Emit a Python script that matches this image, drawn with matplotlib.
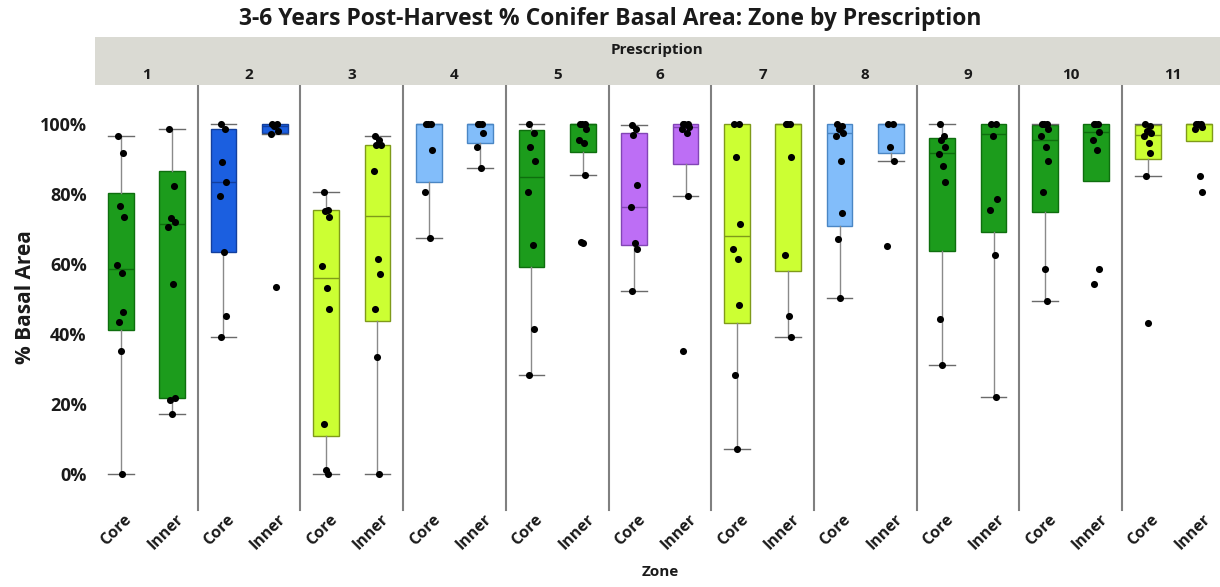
import matplotlib
matplotlib.use("Agg")
import matplotlib.pyplot as plt
from matplotlib.patches import Rectangle
import matplotlib.transforms as mtransforms

plt.rcParams['font.family'] = ['Open Sans', 'DejaVu Sans']

prescriptions = ['1', '2', '3', '4', '5', '6', '7', '8', '9', '10', '11']
zones = ['Core', 'Inner']

# box statistics (percent): q1, median, q3, lower whisker, upper whisker
core_q1 = [41.1, 63.3, 10.9, 83.4, 59.2, 65.3, 43.0, 70.9, 63.8, 74.9, 90.0]
core_med = [58.5, 83.4, 56.1, 100, 84.9, 76.3, 68.0, 97.3, 91.8, 95.4, 96.9]
core_q3 = [80.2, 98.5, 75.4, 100, 98.3, 97.3, 100, 100, 95.9, 99.7, 99.7]
core_lo = [0.0, 39.2, 0.0, 67.3, 28.3, 52.3, 7.1, 50.3, 31.2, 49.4, 85.2]
core_hi = [96.6, 100, 80.4, 100, 100, 99.7, 100, 100, 100, 100, 100]

inner_q1 = [21.8, 97.5, 43.8, 94.5, 92.1, 88.6, 58.0, 91.6, 69.0, 83.8, 95.1]
inner_med = [71.5, 99.5, 73.8, 100, 100, 99.0, 100, 100, 97.0, 97.7, 100]
inner_q3 = [86.4, 100, 94.0, 100, 100, 100, 100, 100, 100, 100, 100]
inner_lo = [17.1, 97.0, 0.0, 87.4, 85.3, 79.3, 39.2, 89.5, 22.1, 83.8, 95.1]
inner_hi = [98.5, 100, 96.4, 100, 100, 100, 100, 100, 100, 100, 100]

core_pts = [
    [96.6, 91.6, 76.4, 73.3, 59.7, 57.3, 46.4, 43.3, 35.2, 0.0],
    [100, 98.5, 89.2, 83.4, 79.5, 63.3, 45.2, 39.2],
    [80.4, 75.4, 75.2, 73.5, 59.4, 53.2, 47.2, 14.2, 1.1, 0.0],
    [100, 100, 100, 92.4, 80.4, 67.3],
    [100, 97.5, 93.5, 89.5, 80.5, 65.4, 41.3, 28.3],
    [99.7, 98.5, 96.7, 82.4, 76.3, 66.1, 64.3, 52.3],
    [100, 100, 90.5, 71.4, 64.3, 61.3, 48.3, 28.3, 7.1],
    [100, 99.5, 98.5, 97.5, 96.5, 89.5, 74.5, 67.2, 50.3],
    [100, 96.4, 95.5, 93.5, 91.4, 88.1, 83.5, 44.3, 31.2],
    [100, 100, 100, 98.5, 96.4, 93.5, 89.4, 80.5, 58.4, 49.4],
    [100, 99.5, 98.0, 97.3, 96.5, 94.5, 91.6, 85.2, 43.2],
]
inner_pts = [
    [98.5, 82.3, 73.0, 72.0, 70.5, 54.2, 21.6, 21.0, 17.1],
    [100, 100, 99.5, 98.0, 97.0, 53.3],
    [96.4, 95.5, 94.0, 94.0, 86.4, 61.3, 57.2, 47.2, 33.3, 0.0],
    [100, 100, 100, 97.5, 93.5, 87.4],
    [100, 100, 100, 98.6, 95.4, 94.5, 85.3, 66.2, 66.0],
    [100, 100, 100, 99.0, 98.5, 97.5, 79.3, 35.1],
    [100, 100, 100, 90.5, 62.4, 45.2, 39.2],
    [100, 100, 93.5, 89.5, 65.2],
    [100, 100, 96.4, 78.6, 75.4, 62.4, 22.1],
    [100, 100, 100, 97.6, 95.4, 92.4, 58.4, 54.3],
    [100, 100, 100, 99.0, 98.5, 85.2, 80.4],
]

# fill / edge colours per prescription
GREEN, GREEN_E = '#1c9c1c', '#0e6e0e'
BLUE, BLUE_E = '#1b5fe0', '#123f9e'
YEL, YEL_E = '#ccff33', '#7f9a1a'
LBLUE, LBLUE_E = '#82bdfa', '#4a86c4'
PURP, PURP_E = '#bd6ef5', '#8245b5'
fills = [GREEN, BLUE, YEL, LBLUE, GREEN, PURP, YEL, LBLUE, GREEN, GREEN, YEL]
edges = [GREEN_E, BLUE_E, YEL_E, LBLUE_E, GREEN_E, PURP_E, YEL_E, LBLUE_E, GREEN_E, GREEN_E, YEL_E]

jitter = [-0.05, 0.04, -0.02, 0.06, -0.07, 0.02, 0.05, -0.04, 0.0, 0.03]

W, H = 1220, 587
fig = plt.figure(figsize=(W / 100, H / 100), dpi=100)

left_px, pw = 95, 102.7
top_px, bot_px = 85, 510
ylo, yhi = -10.3, 111.1

fig.text(610 / W, 1 - 19 / H, '3-6 Years Post-Harvest % Conifer Basal Area: Zone by Prescription',
         ha='center', va='center', fontsize=16.5, fontweight='bold', color='#1a1a1a')

# header band
band = Rectangle((left_px / W, 1 - 85 / H), 1 - left_px / W, 48 / H, transform=fig.transFigure,
                 facecolor='#dadad3', edgecolor='none', zorder=0)
fig.patches.append(band)
fig.text((left_px + W) / 2 / W, 1 - 50 / H, 'Prescription', ha='center', va='center',
         fontsize=11, fontweight='bold', color='#1a1a1a')

for i, p in enumerate(prescriptions):
    x0 = left_px + i * pw
    ax = fig.add_axes([x0 / W, 1 - bot_px / H, pw / W, (bot_px - top_px) / H])
    ax.set_xlim(0.5, 2.5)
    ax.set_ylim(ylo, yhi)
    ax.patch.set_alpha(0)
    for s in ['top', 'right', 'bottom']:
        ax.spines[s].set_visible(False)
    if i == 0:
        ax.spines['left'].set_visible(False)
    else:
        ax.spines['left'].set_color('#808080')
        ax.spines['left'].set_linewidth(1.5)

    stats = [
        dict(q1=core_q1[i], med=core_med[i], q3=core_q3[i], whislo=core_lo[i], whishi=core_hi[i], fliers=[]),
        dict(q1=inner_q1[i], med=inner_med[i], q3=inner_q3[i], whislo=inner_lo[i], whishi=inner_hi[i], fliers=[]),
    ]
    res = ax.bxp(stats, positions=[1, 2], widths=0.5, patch_artist=True, showfliers=False,
                 capwidths=0.5,
                 boxprops=dict(facecolor=fills[i], edgecolor=edges[i], linewidth=1.0),
                 medianprops=dict(color=edges[i], linewidth=1.0),
                 whiskerprops=dict(color='#8a8a8a', linewidth=1.0),
                 capprops=dict(color='#6a6a6a', linewidth=1.0))
    for k, st in enumerate(stats):
        if st['whislo'] >= st['q1']:
            res['caps'][2 * k].set_visible(False)
        if st['whishi'] <= st['q3']:
            res['caps'][2 * k + 1].set_visible(False)

    for pos, pts in [(1, core_pts[i]), (2, inner_pts[i])]:
        xs = [pos + jitter[j % len(jitter)] for j in range(len(pts))]
        ax.scatter(xs, pts, s=26, color='black', zorder=5, linewidths=0)

    ax.set_xticks([1, 2])
    ax.set_xticklabels(zones, rotation=45, ha='right', va='center', rotation_mode='anchor',
                       fontsize=11.5, fontweight='bold', color='#1a1a1a')
    ax.tick_params(axis='x', length=0, pad=5)
    offset = mtransforms.ScaledTranslation(9 / 100, 0, fig.dpi_scale_trans)
    for lab in ax.get_xticklabels():
        lab.set_transform(lab.get_transform() + offset)

    ax.set_yticks([0, 20, 40, 60, 80, 100])
    if i == 0:
        ax.set_yticklabels(['0%', '20%', '40%', '60%', '80%', '100%'], fontsize=13,
                           fontweight='bold', color='#1a1a1a')
        ax.tick_params(axis='y', length=0, pad=6)
        ax.set_ylabel('% Basal Area', fontsize=15, fontweight='bold', color='#1a1a1a', labelpad=3)
    else:
        ax.tick_params(axis='y', length=0, labelleft=False)

    fig.text((x0 + pw / 2) / W, 1 - 75 / H, p, ha='center', va='center',
             fontsize=11, fontweight='bold', color='#1a1a1a')

fig.text(660 / W, 1 - 572 / H, 'Zone', ha='center', va='center', fontsize=11,
         fontweight='bold', color='#1a1a1a')

fig.savefig('out.png', dpi=100, facecolor='white')
